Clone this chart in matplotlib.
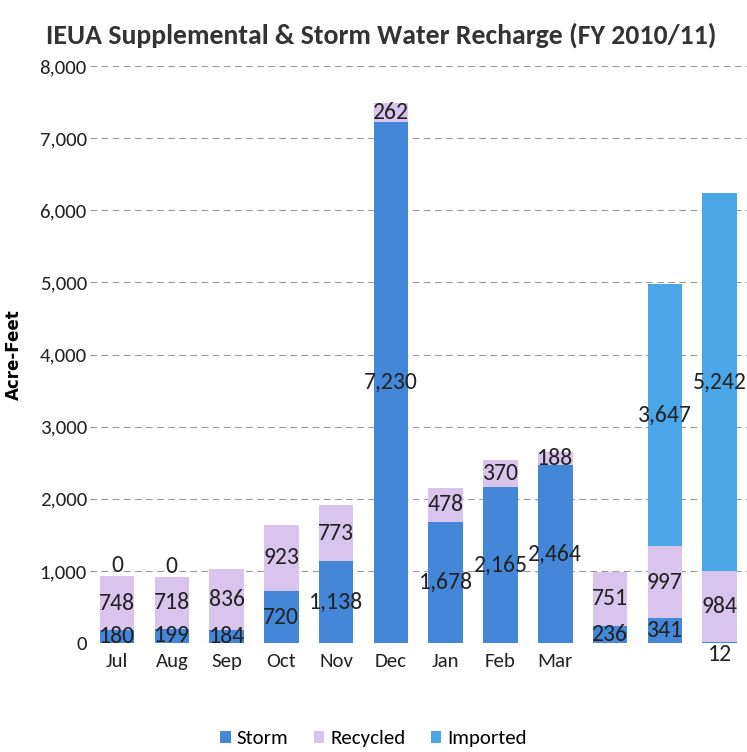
import matplotlib
matplotlib.use("Agg")
import matplotlib.pyplot as plt
import numpy as np

# datos
meses = ["Jul", "Aug", "Sep", "Oct", "Nov", "Dec", "Jan", "Feb", "Mar", "", "", ""]
storm = [180, 199, 184, 720, 1138, 7230, 1678, 2165, 2464, 236, 341, 12]
recycled = [748, 718, 836, 923, 773, 262, 478, 370, 188, 751, 997, 984]
imported = [0, 0, 0, 0, 0, 0, 0, 0, 0, 0, 3647, 5242]

# etiquetas de datos (vacias = no se ven en el original)
lab_storm = ["180", "199", "184", "720", "1,138", "7,230", "1,678", "2,165", "2,464", "236", "341", "12"]
lab_recycled = ["748", "718", "836", "923", "773", "262", "478", "370", "188", "751", "997", "984"]
lab_imported = ["0", "0", "", "", "", "", "", "", "", "", "3,647", "5,242"]

plt.rcParams["font.family"] = ["Carlito", "DejaVu Sans"]

c_storm = "#4487d8"
c_recycled = "#d8c4ec"
c_imported = "#4aa6e6"
c_txt = "#222222"

fig = plt.figure(figsize=(7.47, 7.52), dpi=100)
ax = fig.add_axes([0.12, 0.145, 0.88, 0.767])

x = np.arange(len(meses))
s = np.array(storm)
r = np.array(recycled)
im = np.array(imported)
w = 0.63

ax.bar(x, s, w, color=c_storm, label="Storm", zorder=2)
ax.bar(x, r, w, bottom=s, color=c_recycled, label="Recycled", zorder=2)
ax.bar(x, im, w, bottom=s + r, color=c_imported, label="Imported", zorder=2)

# etiquetas
fs = 17
for i in range(len(x)):
    if lab_storm[i]:
        if s[i] < 60:
            ax.text(x[i], -20, lab_storm[i], ha="center", va="top", fontsize=fs, color=c_txt, zorder=3)
        else:
            ax.text(x[i], s[i] / 2, lab_storm[i], ha="center", va="center", fontsize=fs, color=c_txt, zorder=3)
    if lab_recycled[i]:
        ax.text(x[i], s[i] + r[i] / 2, lab_recycled[i], ha="center", va="center", fontsize=fs,
                color=c_txt, zorder=3)
    if lab_imported[i]:
        if im[i] == 0:
            ax.text(x[i], s[i] + r[i], lab_imported[i], ha="center", va="bottom", fontsize=fs,
                    color=c_txt, zorder=3)
        else:
            ax.text(x[i], s[i] + r[i] + im[i] / 2, lab_imported[i], ha="center", va="center",
                    fontsize=fs, color=c_txt, zorder=3)

ax.set_ylim(0, 8000)
ax.set_xlim(-0.5, 11.5)
ax.set_yticks(np.arange(0, 8001, 1000))
ax.set_yticklabels(["{:,}".format(v) for v in range(0, 8001, 1000)], fontsize=15)
ax.set_xticks(x)
ax.set_xticklabels(meses, fontsize=15)
ax.tick_params(axis="x", length=0, pad=7, colors="#222222")
ax.tick_params(axis="y", length=0, pad=2, colors="#222222")
ax.grid(axis="y", linestyle=(0, (6, 4)), color="#999999", linewidth=0.8, zorder=0)
for sp in ax.spines.values():
    sp.set_visible(False)

ax.set_ylabel("Acre-Feet", fontsize=12, fontweight="bold", family="DejaVu Sans", labelpad=12)
fig.text(0.51, 0.953, "IEUA Supplemental & Storm Water Recharge (FY 2010/11)", ha="center", va="center",
         fontsize=20, fontweight="bold", color="#333333")

fig.legend(loc="center", bbox_to_anchor=(0.5, 0.018), ncol=3, frameon=False, fontsize=15,
           handlelength=0.5, handleheight=0.5, handletextpad=0.3, columnspacing=1.2)

fig.savefig("out.png", dpi=100)
